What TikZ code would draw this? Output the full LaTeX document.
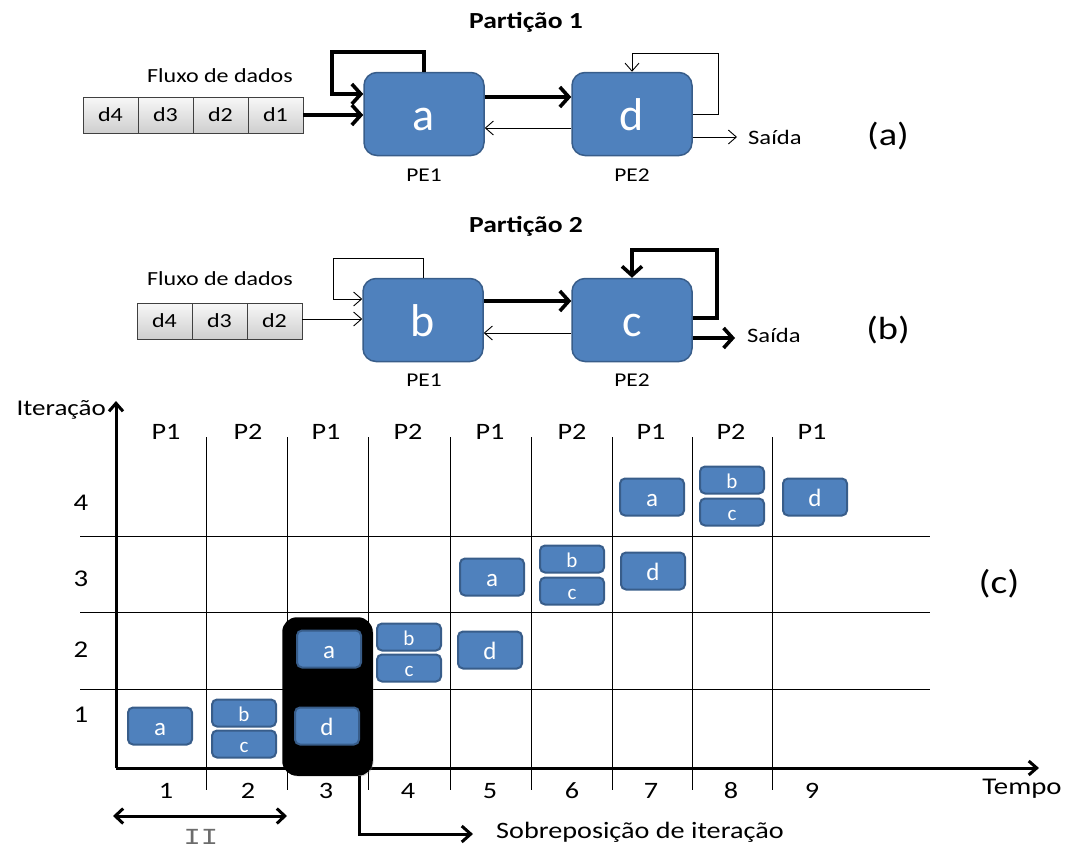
\documentclass[tikz,border=0pt]{standalone}
\usepackage{fontspec}
\setmainfont{Carlito}[FakeStretch=1.2]
\newfontfamily\plainfont{Carlito}
\setmonofont{Liberation Mono}[FakeStretch=1.25]
\usetikzlibrary{arrows.meta,shadows}
\definecolor{peblue}{HTML}{4F81BD}
\definecolor{peedge}{HTML}{385D8A}
\definecolor{celledge}{HTML}{404040}
\newcommand\fsz[1]{\fontsize{#1}{#1}\selectfont}
\begin{document}
\begin{tikzpicture}[x=1pt,y=-1pt,
  pe/.style={draw=peedge, line width=1.5pt, fill=peblue, rounded corners=13pt,
    minimum width=120pt, minimum height=83pt, text=white, font=\plainfont\fsz{46},
    inner sep=0pt, text height=33pt, text depth=0pt},
  cell/.style={draw=celledge, line width=0.8pt, top color=gray!6, bottom color=gray!38,
    minimum width=55pt, minimum height=36pt, font=\fsz{20}, inner sep=0pt},
  lbl/.style={font=\fsz{20}, inner sep=0pt},
  ttl/.style={font=\bfseries\fsz{23}, inner sep=0pt},
  tag/.style={font=\fsz{32}, inner sep=0pt},
  thinarrow/.style={line width=0.9pt, -{Straight Barb[length=8pt,width=14pt]}},
  heavyarrow/.style={line width=3.6pt, -{Straight Barb[length=9pt,width=20pt,line width=3.6pt]}},
  grid/.style={line width=0.9pt, black},
  axis/.style={line width=3pt, -{Straight Barb[length=8pt,width=14pt,line width=3pt]}},
  blk/.style={draw=peedge, line width=2pt, fill=peblue, rounded corners=5pt,
    minimum width=64pt, minimum height=37pt, text=white, font=\plainfont\fsz{25},
    inner sep=0pt, text height=18pt, text depth=0pt},
  half/.style={blk, minimum height=27pt, font=\plainfont\fsz{21}, text height=16pt},
  glbl/.style={font=\fsz{23.5}, inner sep=0pt}
]
\useasboundingbox (0,0) rectangle (1069,852);

% ---------- (a) Partição 1 ----------
\node[ttl] (t1) at (526,22) {Partição 1};
\node[lbl] (f1) at (220,76) {Fluxo de dados};
\node[cell] (a4) at (110.5,115) {d4};
\node[cell] (a3) at (165.5,115) {d3};
\node[cell] (a2) at (220.5,115) {d2};
\node[cell] (a1) at (275.5,115) {d1};
\node[pe] (pa) at (424,114) {a};
\node[pe] (pd) at (632,114) {d};
\node[lbl, font=\fsz{19.5}] (pe1a) at (424,175) {PE1};
\node[lbl, font=\fsz{19.5}] (pe2a) at (632,175) {PE2};
\node[lbl, font=\fsz{20.5}, anchor=west, inner xsep=11pt] (sa) at (737,137) {Saída};
\node[tag] (la) at (888,136) {(a)};
\coordinate (loopa) at (332,52);
\coordinate (loopd) at (718,53);

\draw[heavyarrow] (a1.east) -- (pa.west |- a1.east);
\draw[heavyarrow] (pa.north) |- (loopa) -- (332,94) -- (pa.west |- 0,94);
\draw[heavyarrow] (pa.east |- 0,97) -- (pd.west |- 0,97);
\draw[thinarrow] (pd.west |- 0,128) -- (pa.east |- 0,128);
\draw[thinarrow] (pd.east) -| (loopd) -| (pd.north);
\draw[thinarrow] (pd.east |- sa.west) -- (sa.west);

% ---------- (b) Partição 2 ----------
\node[ttl] (t2) at (526,226) {Partição 2};
\node[lbl] (f2) at (220,279) {Fluxo de dados};
\node[cell] (b4) at (164.5,321) {d4};
\node[cell] (b3) at (219.5,321) {d3};
\node[cell] (b2) at (274.5,321) {d2};
\node[pe] (pb) at (423,320) {b};
\node[pe] (pc) at (632,320) {c};
\node[lbl, font=\fsz{19.5}] (pe1b) at (424,380) {PE1};
\node[lbl, font=\fsz{19.5}] (pe2b) at (632,380) {PE2};
\node[lbl, font=\fsz{20.5}, anchor=west, inner xsep=12pt] (sb) at (735,335) {Saída};
\node[tag] (lb) at (888,330) {(b)};
\coordinate (loopb) at (333,258);
\coordinate (loopc) at (717,250);

\draw[thinarrow] (b2.east |- 0,319) -- (pb.west |- 0,319);
\draw[thinarrow] (pb.north) |- (loopb) -- (333,299) -- (pb.west |- 0,299);
\draw[heavyarrow] (pb.east |- 0,301) -- (pc.west |- 0,301);
\draw[thinarrow] (pc.west |- 0,333) -- (pb.east |- 0,333);
\draw[heavyarrow] (pc.east |- 0,318) -| (loopc) -| (pc.north);
\draw[heavyarrow] (pc.east |- 0,338) -- (sb.west |- 0,338);

% ---------- (c) schedule ----------
\coordinate (O) at (116,768);
\coordinate (ytop) at (116,401);
\coordinate (xend) at (1039,768);

% grid
\foreach \x in {206,287,368,450,531,612,692,772}
  \draw[grid] (\x,437) -- (\x,790);
\foreach \y in {536,612,689}
  \draw[grid] (80,\y) -- (930,\y);

% axes
\draw[axis] (O) -- (ytop);
\draw[axis] (O) -- (xend);
\node[glbl, font=\fsz{22.5}, anchor=east] (itl) at (106,410) {Iteração};
\node[glbl, font=\fsz{24}] (tmp) at (1022,789) {Tempo};
\node[tag, font=\fsz{33}] (lc) at (999,584) {(c)};

% column headers and numbers
\foreach \x/\p/\n [count=\i] in {166/P1/1, 248/P2/2, 326/P1/3, 408/P2/4, 490/P1/5, 572/P2/6, 651/P1/7, 731/P2/8, 812/P1/9}{
  \node[glbl] (hd\i) at (\x,432) {\p};
  \node[glbl] (nm\i) at (\x,791) {\n};
}
% row numbers
\node[glbl, font=\fsz{24}] (r4) at (81,503) {4};
\node[glbl, font=\fsz{24}] (r3) at (81,579) {3};
\node[glbl, font=\fsz{24}] (r2) at (81,650) {2};
\node[glbl, font=\fsz{24}] (r1) at (81,715) {1};

% highlighted overlap column
\node[fill=black, draw=black, line width=1.5pt, rounded corners=14pt,
  drop shadow={opacity=0.35, shadow xshift=1.5pt, shadow yshift=-1.5pt},
  minimum width=89pt, minimum height=157pt, inner sep=0pt] (hl) at (327.5,696.5) {};

% operation blocks
\node[blk] (k1a) at (160,726) {a};
\node[half] (k1b) at (244,713) {b};
\node[half] (k1c) at (244,744) {c};
\node[blk] (k1d) at (327,726) {d};
\node[blk] (k2a) at (329,649) {a};
\node[half] (k2b) at (409,637) {b};
\node[half] (k2c) at (409,668) {c};
\node[blk] (k2d) at (490,650) {d};
\node[blk] (k3a) at (492,577) {a};
\node[half] (k3b) at (572,559) {b};
\node[half] (k3c) at (572,591) {c};
\node[blk] (k3d) at (653,571) {d};
\node[blk] (k4a) at (652,497) {a};
\node[half] (k4b) at (732,480) {b};
\node[half] (k4c) at (732,512) {c};
\node[blk] (k4d) at (815,497) {d};

% initiation interval
\coordinate (iiL) at (113,816);
\coordinate (iiR) at (287,816);
\draw[line width=3pt, {Straight Barb[length=8pt,width=15pt,line width=3pt]}-{Straight Barb[length=8pt,width=15pt,line width=3pt]}] (iiL) -- (iiR);
\node[font=\ttfamily\fsz{23}, text=gray!85!black, inner sep=0pt] (ii) at (201,837) {II};

% overlap pointer
\node[glbl, anchor=west] (sob) at (496,832) {Sobreposição de iteração};
\draw[line width=3pt, -{Straight Barb[length=9pt,width=16pt,line width=3pt]}]
  ([xshift=32pt]hl.south) |- ([xshift=-23pt]sob.west |- 0,834);
\end{tikzpicture}
\end{document}
